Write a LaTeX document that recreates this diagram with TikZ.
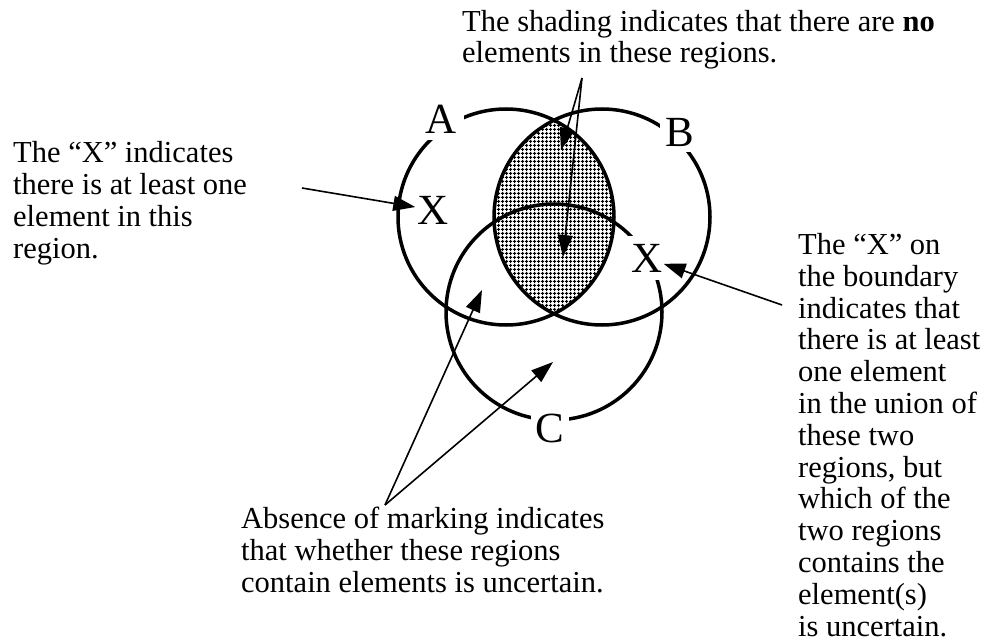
\documentclass[tikz,border=0pt]{standalone}
\usepackage{fontspec}
\setmainfont{Liberation Serif}
\usetikzlibrary{arrows.meta,patterns.meta,backgrounds}

\tikzdeclarepattern{
  name=lensgrid,
  type=uncolored,
  bottom left={(0pt,0pt)},
  top right={(3.5pt,3.5pt)},
  tile size={(3.5pt,3.5pt)},
  code={
    \pgfsetlinewidth{1.2pt}
    \pgfpathmoveto{\pgfpoint{0pt}{1.75pt}}
    \pgfpathlineto{\pgfpoint{3.5pt}{1.75pt}}
    \pgfpathmoveto{\pgfpoint{1.75pt}{0pt}}
    \pgfpathlineto{\pgfpoint{1.75pt}{3.5pt}}
    \pgfusepath{stroke}
  }
}

\newcommand\notesize{\fontsize{30.5pt}{31.8pt}\selectfont}
\newcommand\labelsize{\fontsize{43pt}{48pt}\selectfont}

\begin{document}
\begin{tikzpicture}[
  x=1pt, y=-1pt,
  setcircle/.style = {circle, draw, line width=3.5pt, minimum size=216pt, inner sep=0pt},
  setlabel/.style  = {font=\labelsize, inner sep=2pt},
  masklabel/.style = {setlabel, fill=white, inner sep=8pt, outer sep=-7pt},
  arr/.style   = {-{Triangle[length=22pt,width=15pt]}, line width=1.6pt},
  % anchored at the baseline of the last line
  note/.style  = {font=\notesize, align=left, inner sep=0pt, anchor=base west}
]
  \useasboundingbox (0,0) rectangle (986,642);

  % the three sets
  \node[setcircle] (setA) at (506,217) {};
  \node[setcircle] (setB) at (602,217) {};
  \node[setcircle] (setC) at (554,312) {};

  % A and B overlap is empty
  \begin{scope}[on background layer]
    \clip (setA.center) circle[radius=108pt];
    \fill[pattern=lensgrid, pattern color=black] (setB.center) circle[radius=108pt];
  \end{scope}

  \node[masklabel, inner sep=7pt] (labA) at (441,119) {A};
  \node[masklabel, inner sep=6pt] (labB) at (680,132) {B};
  \node[masklabel, inner sep=5pt] (labC) at (550,428) {C};
  \node[setlabel] (xA) at (433,210) {X};
  \node[masklabel] (xC) at (647,258) {X};

  \node[note] (shadenote) at (462,63)
    {The shading indicates that there are \textbf{no}\\elements in these regions.};
  \node[note] (xnote) at (13,258)
    {The “X” indicates\\there is at least one\\element in this\\region.};
  \node[note] (boundnote) at (798,636)
    {The “X” on\\the boundary\\indicates that\\there is at least\\one element\\in the union of\\these two\\regions, but\\which of the\\two regions\\contains the\\element(s)\\is uncertain.};
  \node[note] (absnote) at (241,592)
    {Absence of marking indicates\\that whether these regions\\contain elements is uncertain.};

  \coordinate (shadefrom) at (582,78);
  \coordinate (lenstop) at (561,150);
  \coordinate (lensmid) at (563,257);
  \coordinate (xfrom) at (302,188);
  \coordinate (bndfrom) at (782,305);
  \coordinate (absfrom) at (385,505);
  \coordinate (acpart) at (482,290);
  \coordinate (cpart) at (553,362);

  \draw[arr] (shadefrom) -- (lenstop);
  \draw[arr] (shadefrom) -- (lensmid);
  \draw[arr] (xfrom) -- (xA);
  \draw[arr] (bndfrom) -- (xC);
  \draw[arr] (absfrom) -- (acpart);
  \draw[arr] (absfrom) -- (cpart);
\end{tikzpicture}
\end{document}
